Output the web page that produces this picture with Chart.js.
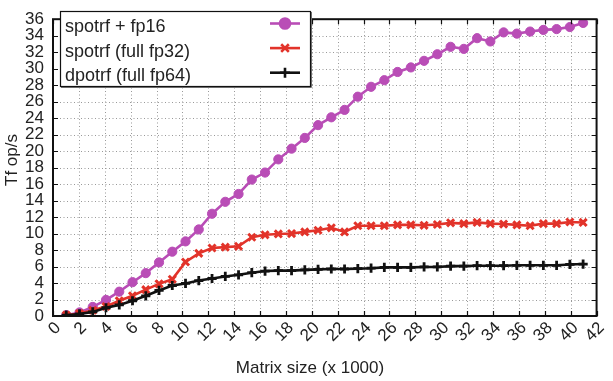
<!DOCTYPE html>
<html>
<head>
<meta charset="utf-8">
<script src="https://cdn.jsdelivr.net/npm/chart.js@4"></script>
<style>
  html, body { margin: 0; padding: 0; background: #fff; }
  #wrap { width: 613px; height: 381px; }
</style>
</head>
<body>
<div id="wrap"><canvas id="chart" width="613" height="381"></canvas></div>
<script>
// --- data ---
const sizes = [1.024, 2.048, 3.072, 4.096, 5.12, 6.144, 7.168, 8.192, 9.216, 10.24,
  11.264, 12.288, 13.312, 14.336, 15.36, 16.384, 17.408, 18.432, 19.456, 20.48,
  21.504, 22.528, 23.552, 24.576, 25.6, 26.624, 27.648, 28.672, 29.696, 30.72,
  31.744, 32.768, 33.792, 34.816, 35.84, 36.864, 37.888, 38.912, 39.936, 40.96];
const spotrfFp16 = [0.1, 0.43, 1.1, 1.95, 2.95, 4.1, 5.2, 6.5, 7.8, 9.05,
  10.5, 12.4, 13.85, 14.8, 16.55, 17.4, 19.0, 20.3, 21.6, 23.15,
  24.1, 25.0, 26.6, 27.8, 28.6, 29.6, 30.15, 30.95, 31.75, 32.65,
  32.4, 33.7, 33.3, 34.4, 34.25, 34.5, 34.7, 34.8, 35.05, 35.55];
const spotrfFp32 = [0.1, 0.3, 0.7, 1.15, 1.85, 2.45, 3.2, 3.9, 4.45, 6.55,
  7.6, 8.25, 8.35, 8.45, 9.55, 9.85, 9.95, 10.0, 10.2, 10.4,
  10.7, 10.2, 10.95, 10.95, 10.95, 11.05, 11.05, 11.0, 11.1, 11.3,
  11.2, 11.35, 11.2, 11.15, 11.05, 10.95, 11.2, 11.2, 11.4, 11.35];
const dpotrfFp64 = [0.1, 0.25, 0.5, 1.0, 1.35, 1.85, 2.45, 3.1, 3.7, 3.95,
  4.3, 4.55, 4.8, 5.0, 5.25, 5.45, 5.5, 5.5, 5.6, 5.65,
  5.7, 5.7, 5.75, 5.8, 5.9, 5.9, 5.9, 5.95, 5.95, 6.05,
  6.05, 6.1, 6.1, 6.1, 6.15, 6.15, 6.15, 6.15, 6.25, 6.3];
const seriesLabels = ['spotrf + fp16', 'spotrf (full fp32)', 'dpotrf (full fp64)'];
const xTitle = 'Matrix size (x 1000)';
const yTitle = 'Tf op/s';
const X_MAX = 42, Y_MAX = 36, STEP = 2;

const FONT = '"Liberation Sans", Arial, sans-serif';
const TEXT = '#222';
const colors = ['#b94db6', '#e2332a', '#111111'];
const styles = ['circle', 'crossRot', 'cross'];
const radii = [4.6, 5, 4.6];
const borders = [1, 3, 2.8];

const toPts = vals => vals.map((v, i) => ({ x: sizes[i], y: v }));
const seriesValues = [spotrfFp16, spotrfFp32, dpotrfFp64];

const datasets = seriesValues.map((vals, i) => ({
  label: seriesLabels[i],
  data: toPts(vals),
  borderColor: colors[i],
  backgroundColor: colors[i],
  borderWidth: 2.6,
  pointStyle: styles[i],
  pointRadius: radii[i],
  pointBorderWidth: borders[i],
  order: 2 - i,
  tension: 0
}));

// --- dotted grid under the data ---
const dottedGrid = {
  id: 'dottedGrid',
  beforeDatasetsDraw(chart) {
    const { ctx, chartArea: a, scales: { x, y } } = chart;
    ctx.save();
    ctx.strokeStyle = '#999';
    ctx.lineWidth = 1;
    ctx.setLineDash([1, 2.5]);
    ctx.beginPath();
    for (let v = STEP; v < X_MAX; v += STEP) {
      const px = Math.round(x.getPixelForValue(v)) + 0.5;
      ctx.moveTo(px, a.bottom); ctx.lineTo(px, a.top);
    }
    for (let v = STEP; v < Y_MAX; v += STEP) {
      const py = Math.round(y.getPixelForValue(v)) + 0.5;
      ctx.moveTo(a.left, py); ctx.lineTo(a.right, py);
    }
    ctx.stroke();
    ctx.restore();
  }
};

// --- frame, inward ticks, legend box, axis titles ---
const gnuplotLook = {
  id: 'gnuplotLook',
  afterDatasetsDraw(chart) {
    const { ctx, chartArea: a, scales: { x, y } } = chart;
    ctx.save();
    ctx.strokeStyle = '#111';
    ctx.lineWidth = 1.2;
    ctx.beginPath();
    for (let v = 0; v <= X_MAX; v += STEP) {
      const px = Math.round(x.getPixelForValue(v)) + 0.5;
      ctx.moveTo(px, a.bottom); ctx.lineTo(px, a.bottom - 5);
      ctx.moveTo(px, a.top); ctx.lineTo(px, a.top + 5);
    }
    for (let v = 0; v <= Y_MAX; v += STEP) {
      const py = Math.round(y.getPixelForValue(v)) + 0.5;
      ctx.moveTo(a.left, py); ctx.lineTo(a.left + 5, py);
      ctx.moveTo(a.right, py); ctx.lineTo(a.right - 5, py);
    }
    ctx.stroke();
    ctx.lineWidth = 2;
    ctx.strokeRect(a.left, a.top, a.right - a.left, a.bottom - a.top);

    // legend box
    const bx = 60, by = 11, bw = 250, bh = 75;
    ctx.fillStyle = '#fff';
    ctx.fillRect(bx, by, bw, bh);
    ctx.strokeStyle = '#777';
    ctx.lineWidth = 1;
    ctx.beginPath();
    ctx.moveTo(bx + bw + 1.5, by + 1); ctx.lineTo(bx + bw + 1.5, by + bh + 1.5); ctx.lineTo(bx + 1, by + bh + 1.5);
    ctx.stroke();
    ctx.strokeStyle = '#111';
    ctx.lineWidth = 1.2;
    ctx.strokeRect(bx + 0.5, by + 0.5, bw, bh);

    ctx.font = '18px ' + FONT;
    ctx.textBaseline = 'middle';
    ctx.textAlign = 'left';
    seriesLabels.forEach((lab, i) => {
      const cy = 23.5 + i * 24.6;
      ctx.fillStyle = TEXT;
      ctx.fillText(lab, 65, cy + 3.5);
      ctx.strokeStyle = colors[i];
      ctx.lineWidth = 2.6;
      ctx.beginPath();
      ctx.moveTo(270, cy); ctx.lineTo(300, cy);
      ctx.stroke();
      ctx.fillStyle = colors[i];
      Chart.helpers.drawPoint(ctx, {
        pointStyle: styles[i], radius: radii[i] + 0.4, rotation: 0,
        borderWidth: borders[i]
      }, 285, cy);
      if (i === 0) { ctx.fill(); }
    });

    ctx.fillStyle = TEXT;
    ctx.font = '17px ' + FONT;
    ctx.textAlign = 'center';
    ctx.fillText(xTitle, 310, 368);
    ctx.translate(12, 160);
    ctx.rotate(-Math.PI / 2);
    ctx.fillText(yTitle, 0, 0);
    ctx.restore();
  }
};

const ctx = document.getElementById('chart').getContext('2d');
new Chart(ctx, {
  type: 'line',
  data: { datasets },
  options: {
    responsive: false,
    animation: false,
    layout: { padding: { top: 7, right: 5, left: 0, bottom: 0 } },
    plugins: { legend: { display: false }, tooltip: { enabled: false } },
    scales: {
      x: {
        type: 'linear', min: 0, max: X_MAX,
        afterFit: s => { s.height = 65; },
        grid: { display: false, drawTicks: false },
        border: { display: false },
        ticks: {
          stepSize: STEP, autoSkip: false, maxRotation: 45, minRotation: 45,
          padding: 2, labelOffset: 5, color: TEXT, font: { family: FONT, size: 17 }
        }
      },
      y: {
        type: 'linear', min: 0, max: Y_MAX,
        afterFit: s => { s.width = 53; },
        grid: { display: false, drawTicks: false },
        border: { display: false },
        ticks: {
          stepSize: STEP, autoSkip: false, padding: 9,
          color: TEXT, font: { family: FONT, size: 17 }
        }
      }
    }
  },
  plugins: [dottedGrid, gnuplotLook]
});
</script>
</body>
</html>
